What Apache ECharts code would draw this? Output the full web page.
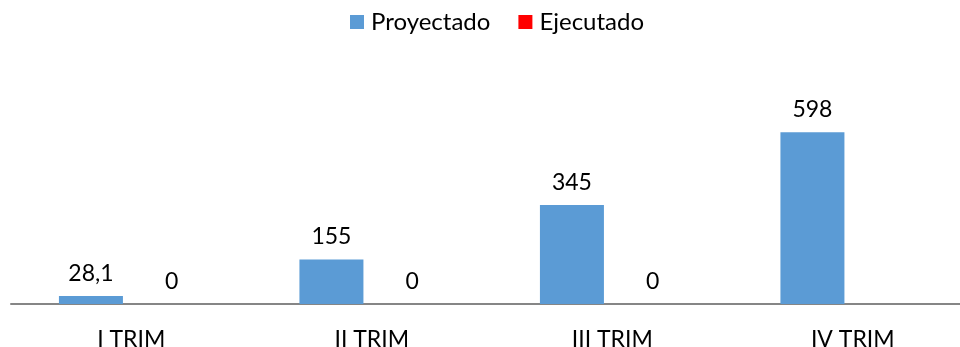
<!DOCTYPE html>
<html>
<head>
<meta charset="utf-8">
<script src="https://cdn.jsdelivr.net/npm/echarts@6/dist/echarts.min.js"></script>
<style>
  html, body { margin: 0; padding: 0; background: #ffffff; }
  #chart { width: 960px; height: 347px; }
</style>
</head>
<body>
<div id="chart"></div>
<script>
// Quarterly budget: projected vs executed
const categories = ['I TRIM', 'II TRIM', 'III TRIM', 'IV TRIM'];
const proyectado = [28.1, 155, 345, 598];
const ejecutado = [0, 0, 0, null];

const FONT = 'Lato, "Open Sans", sans-serif';

const fmt = p => String(p.value).replace('.', ',');

const chart = echarts.init(document.getElementById('chart'), null, { renderer: 'canvas' });
chart.setOption({
  animation: false,
  backgroundColor: '#ffffff',
  textStyle: { fontFamily: FONT },
  legend: {
    top: 10,
    left: 350,
    padding: 0,
    icon: 'rect',
    itemWidth: 14,
    itemHeight: 14,
    itemGap: 28,
    textStyle: { fontFamily: FONT, fontSize: 24, color: '#000000', padding: [0, 0, 0, 2] },
    data: ['Proyectado', 'Ejecutado']
  },
  grid: { left: 11, top: 103, width: 962, height: 201, containLabel: false, outerBoundsMode: 'none' },
  xAxis: {
    type: 'category',
    data: categories,
    axisLine: { show: true, lineStyle: { color: '#868686', width: 2 } },
    axisTick: { show: false },
    axisLabel: { fontFamily: FONT, fontSize: 23, color: '#000000', margin: 24 }
  },
  yAxis: {
    type: 'value',
    min: 0,
    max: 700,
    show: false,
    splitLine: { show: false }
  },
  series: [
    {
      name: 'Proyectado',
      type: 'bar',
      data: proyectado,
      barWidth: 64,
      barGap: '26%',
      itemStyle: { color: '#5B9BD5' },
      label: { show: true, position: 'top', distance: 11, formatter: fmt,
               fontFamily: FONT, fontSize: 23, color: '#000000' }
    },
    {
      name: 'Ejecutado',
      type: 'bar',
      data: ejecutado,
      barWidth: 64,
      itemStyle: { color: '#FF0000' },
      label: { show: true, position: 'top', distance: 11, formatter: fmt,
               fontFamily: FONT, fontSize: 23, color: '#000000' }
    }
  ]
});
</script>
</body>
</html>
